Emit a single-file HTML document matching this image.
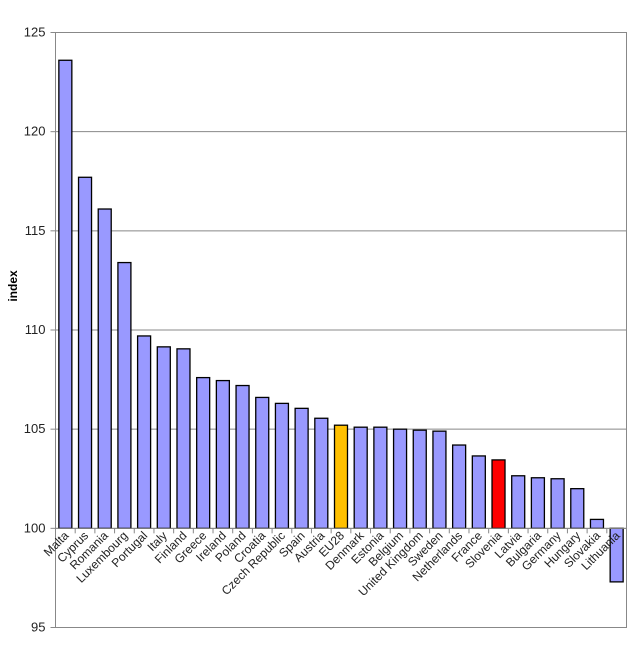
<!DOCTYPE html>
<html><head><meta charset="utf-8"><style>
html,body{margin:0;padding:0;background:#fff;width:637px;height:661px;overflow:hidden}
text{font-family:"Liberation Sans",sans-serif}
</style></head><body>
<svg id="chart" width="637" height="661" xmlns="http://www.w3.org/2000/svg">
<rect x="55.5" y="32.5" width="571" height="595" fill="#fff" stroke="#888"/>
<g id="grid"></g><g id="bars"></g><g id="axes"></g><g id="labels"></g>
<text x="17" y="286" transform="rotate(-90 17 286)" text-anchor="middle" font-size="12" font-weight="bold">index</text>
</svg>
<script>
const categories=["Malta","Cyprus","Romania","Luxembourg","Portugal","Italy","Finland","Greece","Ireland","Poland","Croatia","Czech Republic","Spain","Austria","EU28","Denmark","Estonia","Belgium","United Kingdom","Sweden","Netherlands","France","Slovenia","Latvia","Bulgaria","Germany","Hungary","Slovakia","Lithuania"];
const values=[123.6,117.7,116.1,113.4,109.7,109.15,109.05,107.6,107.45,107.2,106.6,106.3,106.05,105.55,105.2,105.1,105.1,105.0,104.95,104.9,104.2,103.65,103.45,102.65,102.55,102.5,102.0,100.45,97.3];
const yTicks=[95,100,105,110,115,120,125];
const X0=55.5,X1=626.5,Y0=627.5,Y1=32.5,YMIN=95,YMAX=125,BASE=100;
const ns="http://www.w3.org/2000/svg";
function y(v){return Y0-(v-YMIN)/(YMAX-YMIN)*(Y0-Y1);}
const n=categories.length,cw=(X1-X0)/n;
function x(i){return X0+i*cw;}
function mk(t,a,p){const e=document.createElementNS(ns,t);for(const k in a)e.setAttribute(k,a[k]);document.getElementById(p).appendChild(e);return e;}
yTicks.forEach(t=>{
 if(t>YMIN&&t<YMAX){const g=mk("line",{x1:X0,x2:X1,y1:y(t),y2:y(t),stroke:"#888","stroke-width":1},"grid");
 
 }
 const tk=mk("line",{x1:X0-5,x2:X0,y1:y(t),y2:y(t),stroke:"#888"},"axes");
 
 
 const lb=mk("text",{x:X0-10,y:y(t)+4,"text-anchor":"end","font-size":"13",fill:"#222"},"labels");lb.textContent=t;
 
 
});
const bw=cw*0.66;
categories.forEach((c,i)=>{
 const v=values[i],top=Math.min(y(v),y(BASE)),h=Math.abs(y(v)-y(BASE));
 const col=c==="EU28"?"#ffc000":c==="Slovenia"?"#ff0000":"#9999ff";
 const r=mk("rect",{x:x(i)+(cw-bw)/2,y:top,width:bw,height:h,fill:col,stroke:"#000","stroke-width":1.3},"bars");
 
 
 const tk=mk("line",{x1:x(i),x2:x(i),y1:y(BASE),y2:y(BASE)+5,stroke:"#888"},"axes");
 
 
 const cx=x(i)+cw/2+4,cy=y(BASE)+8;
 const lb=mk("text",{x:cx,y:cy,"text-anchor":"end","font-size":"12",fill:"#222",transform:`rotate(-45 ${cx} ${cy})`},"labels");lb.textContent=c;
 
 
});
const ax=mk("line",{x1:X0,x2:X1,y1:y(BASE),y2:y(BASE),stroke:"#888"},"axes");


</script>
</body></html>
